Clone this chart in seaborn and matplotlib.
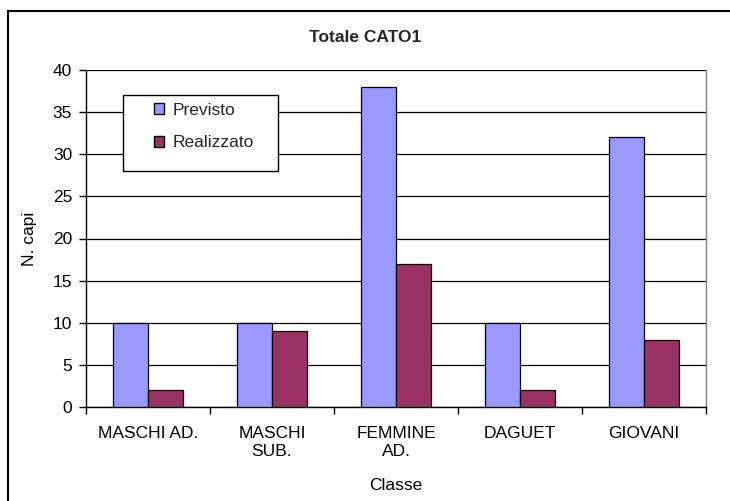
"""
Totale CATO1 - previsto vs realizzato per classe
"""
import numpy as np
import pandas as pd
import matplotlib
matplotlib.use("Agg")
import matplotlib.pyplot as plt
from matplotlib.patches import Patch, Rectangle
import seaborn as sns

# data
classi = ["MASCHI AD.", "MASCHI\nSUB.", "FEMMINE\nAD.", "DAGUET", "GIOVANI"]
previsto = [10, 10, 38, 10, 32]
realizzato = [2, 9, 17, 2, 8]
serie = ["Previsto", "Realizzato"]
colori = ["#9999FF", "#993366"]

df = pd.DataFrame({"Classe": classi, "Previsto": previsto, "Realizzato": realizzato})
df_long = df.melt(id_vars="Classe", var_name="Serie", value_name="N. capi")

sns.set_theme(style="white")
plt.rcParams["font.family"] = ["Liberation Sans", "DejaVu Sans"]
fs = 12.5

fig = plt.figure(figsize=(7.3, 5.01), dpi=100)
ax = fig.add_axes([86 / 730, 1 - 407 / 501, 620 / 730, 337 / 501])

sns.barplot(data=df_long, x="Classe", y="N. capi", hue="Serie",
            palette=colori, hue_order=serie, width=2 / 3.5, saturation=1,
            edgecolor="black", linewidth=0.9, legend=False, ax=ax, zorder=3)

ax.set_ylim(0, 40)
ax.set_yticks(np.arange(0, 41, 5))
ax.set_xlim(-0.5, len(classi) - 0.5)
ax.set_xticks(np.arange(-0.5, len(classi), 1), minor=True)
ax.yaxis.grid(True, color="black", linewidth=0.9, zorder=0)
ax.set_axisbelow(True)

for side in ["left", "bottom"]:
    ax.spines[side].set_color("black")
    ax.spines[side].set_linewidth(1.0)
ax.spines["top"].set_visible(False)
ax.spines["right"].set_color("#808080")
ax.spines["right"].set_linewidth(1.0)

ax.tick_params(axis="x", which="major", length=0, pad=14, labelsize=fs, colors="black")
ax.tick_params(axis="x", which="minor", length=5, width=1.0, direction="out",
               bottom=True, color="black")
ax.tick_params(axis="y", length=5, width=1.0, direction="out", left=True,
               pad=5, labelsize=fs, colors="black")
for lab in ax.get_xticklabels():
    lab.set_linespacing(1.25)

ax.set_xlabel("Classe", fontsize=fs, labelpad=13, color="black")
ax.set_ylabel("N. capi", fontsize=fs, labelpad=11, color="black")

fig.suptitle("Totale CATO1", x=0.5, y=1 - 38 / 501, va="center",
             fontsize=fs, fontweight="bold")

# legend box
box = Rectangle((123 / 730, 1 - 171 / 501), 155 / 730, 76 / 501,
                transform=fig.transFigure, facecolor="white",
                edgecolor="black", linewidth=1.0, zorder=4)
ax.add_patch(box)
box.set_clip_on(False)
handles = [Patch(facecolor=c, edgecolor="black", linewidth=1.0) for c in colori]
leg = ax.legend(handles, serie, loc="upper left",
                bbox_to_anchor=(154 / 730, 1 - 103 / 501),
                bbox_transform=fig.transFigure, frameon=False,
                borderpad=0, borderaxespad=0, handlelength=0.6,
                handleheight=0.6, handletextpad=0.45, labelspacing=1.0,
                fontsize=fs)
leg.set_zorder(5)

# outer chart border
border = Rectangle((8 / 730, -0.1), 1.2, 1.1 - 10.5 / 501,
                   transform=fig.transFigure, fill=False,
                   edgecolor="black", linewidth=1.5)
fig.patches.append(border)

fig.savefig("out.png", dpi=100, facecolor="white")
